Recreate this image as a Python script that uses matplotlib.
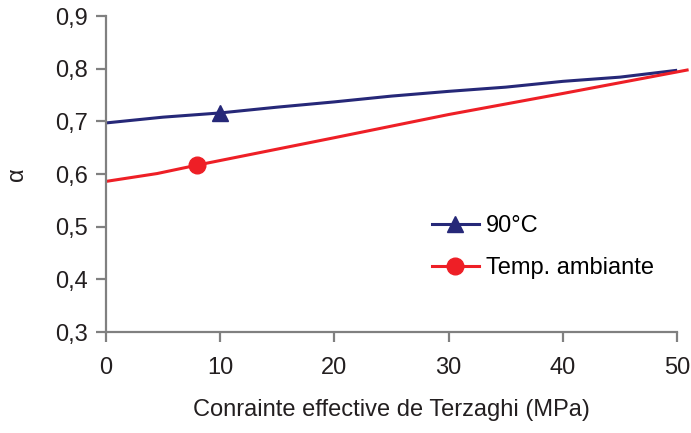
import matplotlib
matplotlib.use("Agg")
import matplotlib.pyplot as plt
from matplotlib.lines import Line2D

# data
x_90 = [0, 5, 10, 15, 20, 25, 30, 35, 40, 45, 50]
y_90 = [0.697, 0.708, 0.716, 0.727, 0.737, 0.748, 0.757, 0.765, 0.776, 0.784, 0.797]
x_amb = [0, 4.5, 8, 20, 30, 40, 51]
y_amb = [0.586, 0.601, 0.617, 0.669, 0.713, 0.753, 0.798]
marker_90 = (10, 0.716)
marker_amb = (8, 0.617)

xticks = [0, 10, 20, 30, 40, 50]
yticks = [0.3, 0.4, 0.5, 0.6, 0.7, 0.8, 0.9]
ytick_labels = ["0,3", "0,4", "0,5", "0,6", "0,7", "0,8", "0,9"]

blue = "#262878"
red = "#ee1f26"
grey = "#808080"

plt.rcParams["font.family"] = ["Liberation Sans", "DejaVu Sans"]
plt.rcParams["font.size"] = 17

fig = plt.figure(figsize=(6.91, 4.33), dpi=100)
ax = fig.add_axes([0.153, 0.233, 0.827, 0.730])

ax.plot(x_90, y_90, color=blue, lw=2.2, clip_on=False, solid_capstyle="butt")
ax.plot(x_amb, y_amb, color=red, lw=2.2, clip_on=False, solid_capstyle="butt")
ax.plot(*marker_90, marker="^", color=blue, ms=12, clip_on=False)
ax.plot(*marker_amb, marker="o", color=red, ms=12, clip_on=False)

ax.set_xlim(0, 50)
ax.set_ylim(0.3, 0.9)
ax.set_xticks(xticks)
ax.set_yticks(yticks)
ax.set_yticklabels(ytick_labels)

for side in ["top", "right"]:
    ax.spines[side].set_visible(False)
for side in ["left", "bottom"]:
    ax.spines[side].set_color(grey)
    ax.spines[side].set_linewidth(1.6)
ax.tick_params(direction="out", length=7, width=1.6, color=grey,
               labelcolor="#231f20", pad=6)
ax.tick_params(axis="x", pad=11)

ax.set_xlabel("Conrainte effective de Terzaghi (MPa)", color="#231f20", labelpad=14)
ax.set_ylabel("α", color="#231f20", labelpad=19)

handles = [
    Line2D([], [], color=blue, lw=2.2, marker="^", ms=12),
    Line2D([], [], color=red, lw=2.2, marker="o", ms=12),
]
ax.legend(handles, ["90°C", "Temp. ambiante"], loc="upper left",
          bbox_to_anchor=(0.554, 0.40), frameon=False, handlelength=2.0,
          handletextpad=0.3, labelspacing=0.85, borderaxespad=0)

fig.savefig("out.png", dpi=100)
